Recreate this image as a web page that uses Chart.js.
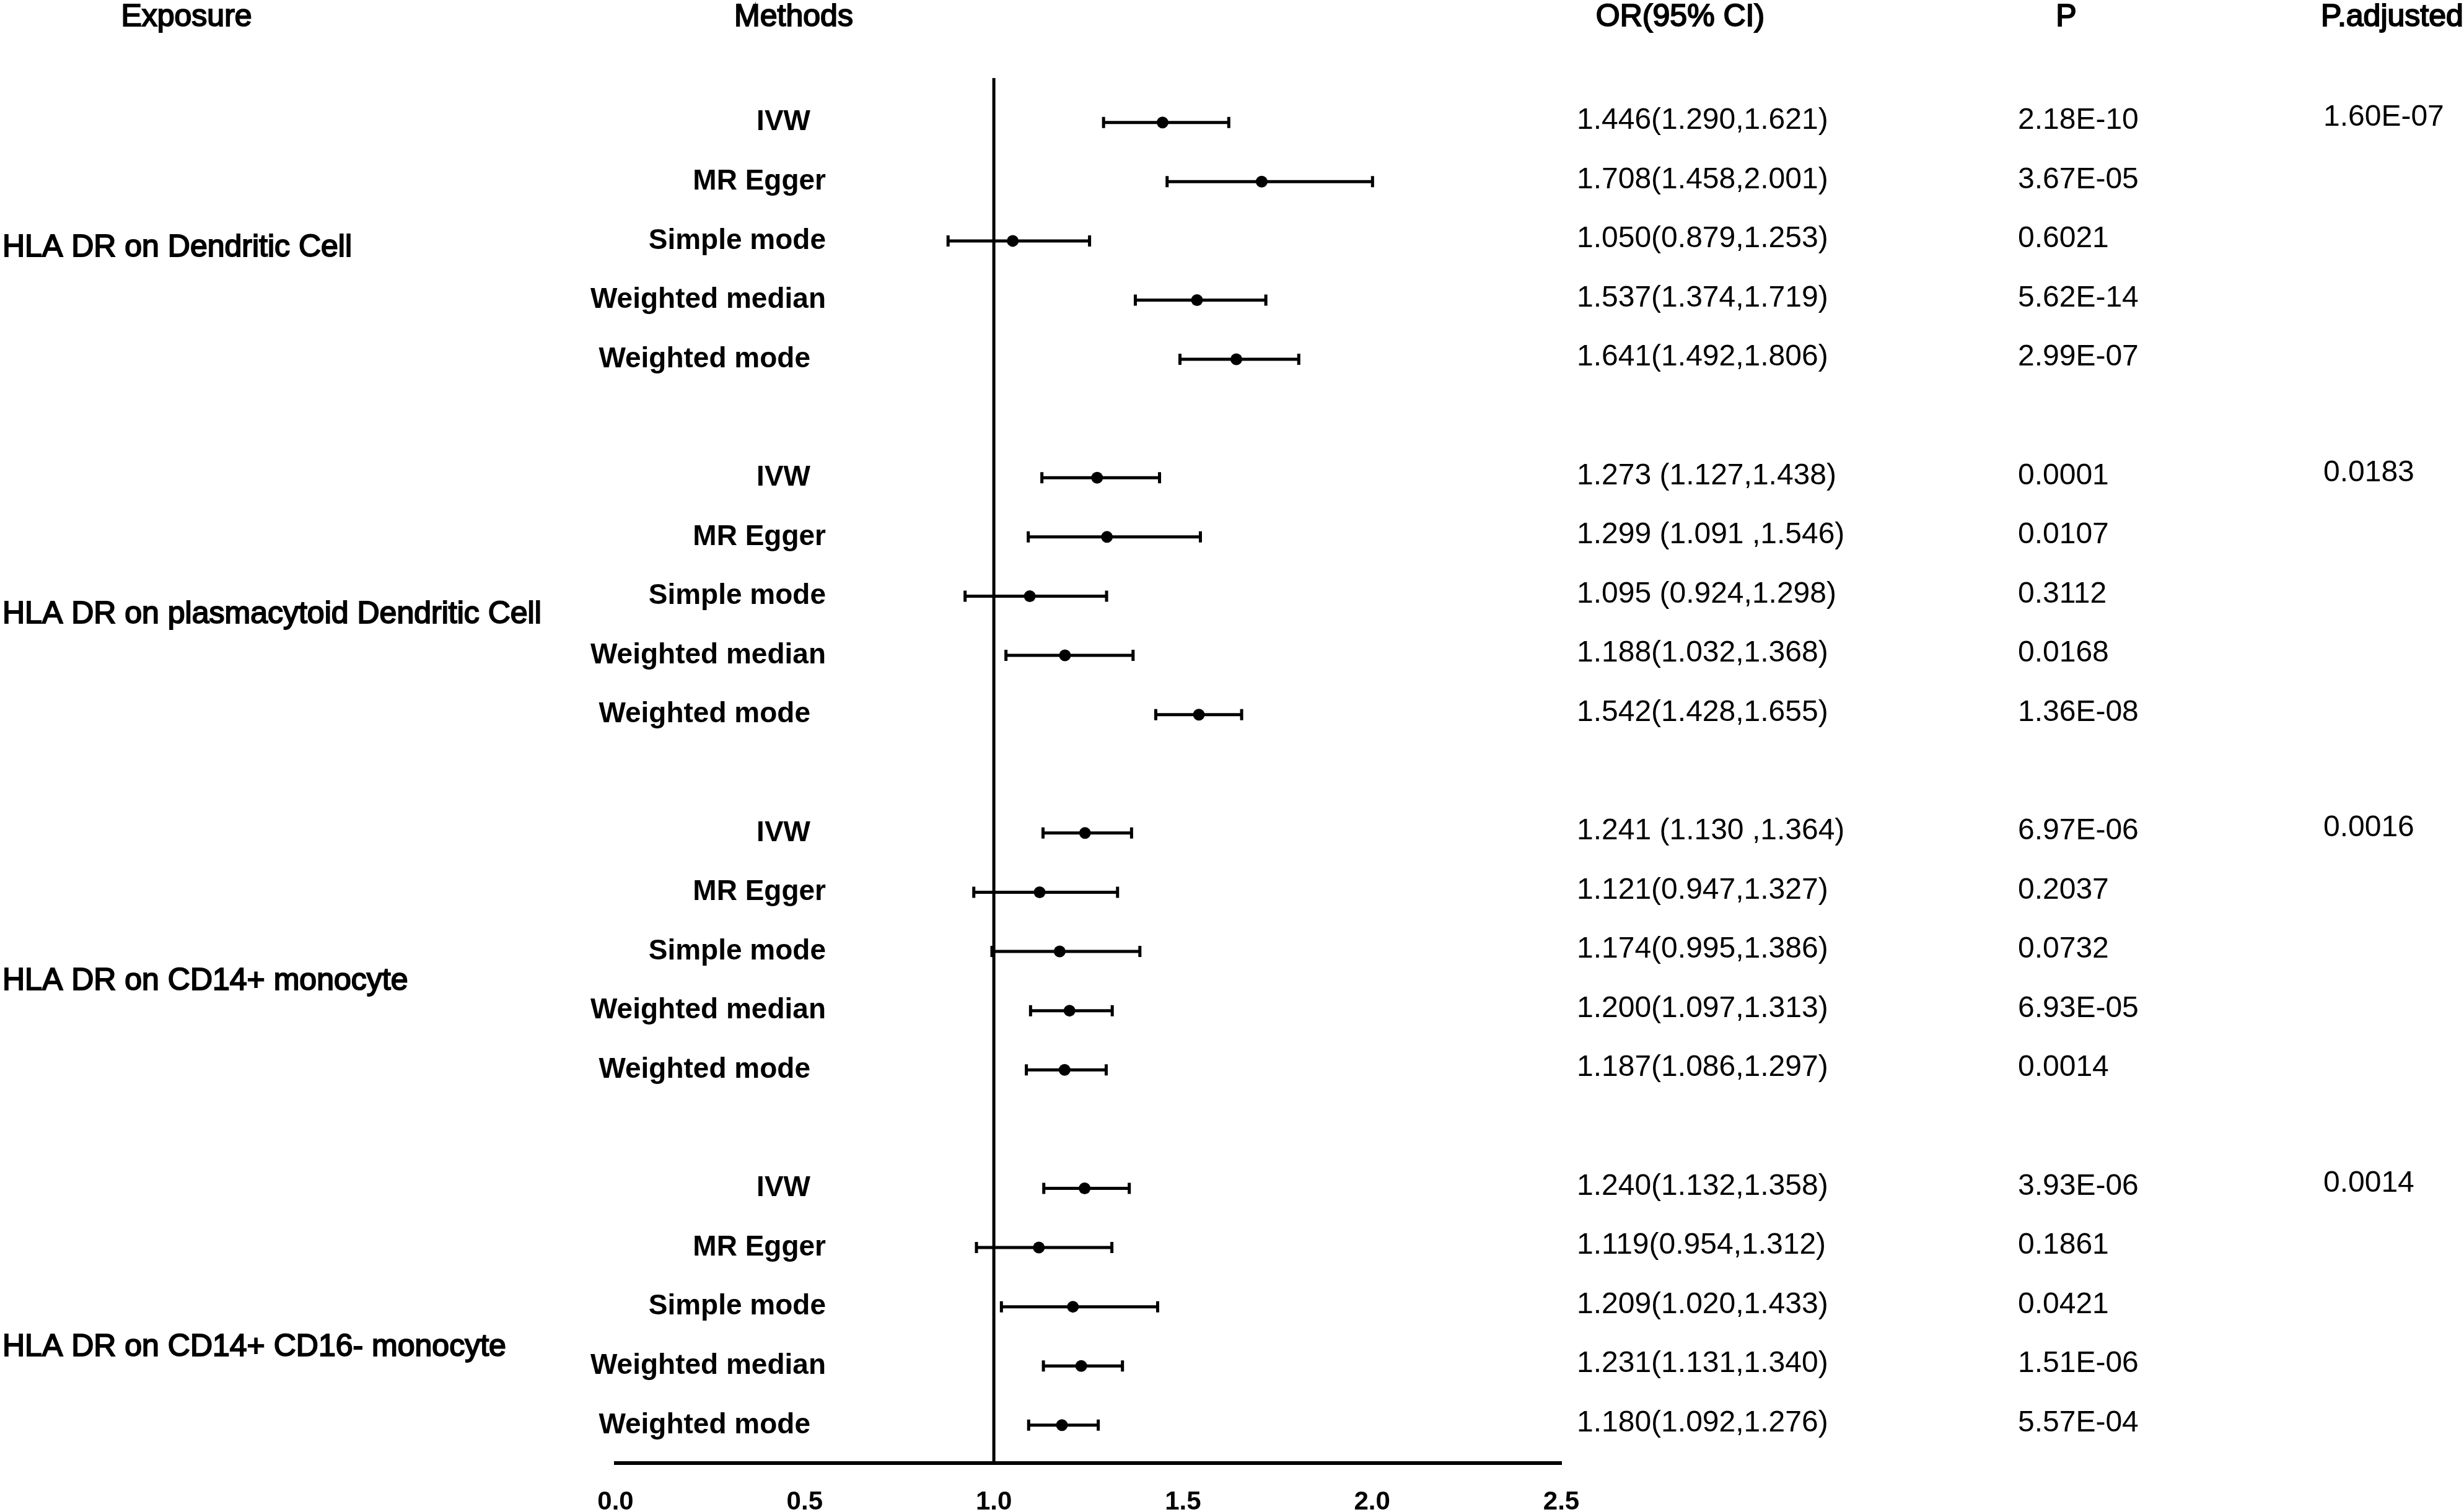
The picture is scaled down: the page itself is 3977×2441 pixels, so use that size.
<!DOCTYPE html>
<html>
<head>
<meta charset="utf-8">
<script src="https://cdn.jsdelivr.net/npm/chart.js@4/dist/chart.umd.min.js"></script>
<style>
  html, body { margin: 0; padding: 0; background: #fff; }
  #wrap { width: 3977px; height: 2441px; }
</style>
</head>
<body>
<div id="wrap"><canvas id="forest" width="3977" height="2441"></canvas></div>
<script>
// ---- data ----
const exposures = ["HLA DR on Dendritic Cell", "HLA DR on plasmacytoid Dendritic Cell", "HLA DR on CD14+ monocyte", "HLA DR on CD14+ CD16- monocyte"];
const methods = ["IVW", "MR Egger", "Simple mode", "Weighted median", "Weighted mode"];

const orValues = [1.446, 1.708, 1.050, 1.537, 1.641,
                  1.273, 1.299, 1.095, 1.188, 1.542,
                  1.241, 1.121, 1.174, 1.200, 1.187,
                  1.240, 1.119, 1.209, 1.231, 1.180];
const ciLower = [1.290, 1.458, 0.879, 1.374, 1.492,
                 1.127, 1.091, 0.924, 1.032, 1.428,
                 1.130, 0.947, 0.995, 1.097, 1.086,
                 1.132, 0.954, 1.020, 1.131, 1.092];
const ciUpper = [1.621, 2.001, 1.253, 1.719, 1.806,
                 1.438, 1.546, 1.298, 1.368, 1.655,
                 1.364, 1.327, 1.386, 1.313, 1.297,
                 1.358, 1.312, 1.433, 1.340, 1.276];
const orLabels = ["1.446(1.290,1.621)", "1.708(1.458,2.001)", "1.050(0.879,1.253)", "1.537(1.374,1.719)", "1.641(1.492,1.806)",
                  "1.273 (1.127,1.438)", "1.299 (1.091 ,1.546)", "1.095 (0.924,1.298)", "1.188(1.032,1.368)", "1.542(1.428,1.655)",
                  "1.241 (1.130 ,1.364)", "1.121(0.947,1.327)", "1.174(0.995,1.386)", "1.200(1.097,1.313)", "1.187(1.086,1.297)",
                  "1.240(1.132,1.358)", "1.119(0.954,1.312)", "1.209(1.020,1.433)", "1.231(1.131,1.340)", "1.180(1.092,1.276)"];
const pValues = ["2.18E-10", "3.67E-05", "0.6021", "5.62E-14", "2.99E-07",
                 "0.0001", "0.0107", "0.3112", "0.0168", "1.36E-08",
                 "6.97E-06", "0.2037", "0.0732", "6.93E-05", "0.0014",
                 "3.93E-06", "0.1861", "0.0421", "1.51E-06", "5.57E-04"];
const pAdjusted = ["1.60E-07", "0.0183", "0.0016", "0.0014"];
const headers = ["Exposure", "Methods", "OR(95% CI)", "P", "P.adjusted"];
const xTicks = [0.0, 0.5, 1.0, 1.5, 2.0, 2.5];

// one blank row between exposure groups
const rowOf = i => Math.floor(i / methods.length) * (methods.length + 1) + (i % methods.length);
const yMin = -0.75, yMax = 22.64;

const FONT = '"Liberation Sans", Arial, sans-serif';
Chart.defaults.font.family = FONT;
Chart.defaults.color = "#000";

const points = orValues.map((v, i) => ({ x: v, y: rowOf(i) }));

// horizontal CI bars with end caps
const errorBars = {
  id: "errorBars",
  beforeDatasetsDraw(chart) {
    const { ctx, scales: { x, y } } = chart;
    ctx.save();
    ctx.strokeStyle = "#000";
    ctx.lineWidth = 5;
    orValues.forEach((v, i) => {
      const py = y.getPixelForValue(rowOf(i));
      const x0 = x.getPixelForValue(ciLower[i]);
      const x1 = x.getPixelForValue(ciUpper[i]);
      ctx.beginPath();
      ctx.moveTo(x0, py); ctx.lineTo(x1, py);
      ctx.moveTo(x0, py - 9); ctx.lineTo(x0, py + 9);
      ctx.moveTo(x1, py - 9); ctx.lineTo(x1, py + 9);
      ctx.stroke();
    });
    ctx.restore();
  }
};

// table columns and row labels
const tableText = {
  id: "tableText",
  afterDraw(chart) {
    const { ctx, scales: { y } } = chart;
    ctx.save();
    ctx.fillStyle = "#000";
    ctx.strokeStyle = "#000";

    // headers and exposures: medium-ish weight
    function medium(txt, px, py, align) {
      ctx.font = "50px " + FONT;
      ctx.textAlign = align;
      ctx.lineWidth = 2;
      ctx.fillText(txt, px, py);
      ctx.strokeText(txt, px, py);
    }
    ctx.textBaseline = "alphabetic";
    medium(headers[0], 301, 42, "center");
    medium(headers[1], 1281, 42, "center");
    medium(headers[2], 2712, 42, "center");
    medium(headers[3], 3335, 42, "center");
    medium(headers[4], 3746, 42, "left");

    ctx.textBaseline = "middle";
    exposures.forEach((e, g) => {
      medium(e, 4, y.getPixelForValue(2.12 + 6.19 * g), "left");
    });

    // method names, bold
    ctx.font = "bold 46px " + FONT;
    ctx.textAlign = "right";
    orValues.forEach((v, i) => {
      const m = methods[i % methods.length];
      const right = (m === "IVW" || m === "Weighted mode") ? 1308 : 1333;
      ctx.fillText(m, right, y.getPixelForValue(rowOf(i)));
    });

    // OR / P / adjusted P
    ctx.font = "48px " + FONT;
    ctx.textAlign = "left";
    orValues.forEach((v, i) => {
      const py = y.getPixelForValue(rowOf(i)) - 3;
      ctx.fillText(orLabels[i], 2545, py);
      ctx.fillText(pValues[i], 3257, py);
    });
    pAdjusted.forEach((p, g) => {
      ctx.fillText(p, 3750, y.getPixelForValue(g * (methods.length + 1)) - 8);
    });
    ctx.restore();
  }
};

new Chart(document.getElementById("forest"), {
  data: {
    datasets: [
      {
        type: "line",
        data: [{ x: 1, y: yMin }, { x: 1, y: yMax }],
        borderColor: "#000",
        borderWidth: 5,
        pointRadius: 0
      },
      {
        type: "scatter",
        data: points,
        pointRadius: 9.5,
        pointHoverRadius: 9.5,
        backgroundColor: "#000",
        borderWidth: 0
      }
    ]
  },
  options: {
    responsive: false,
    animation: false,
    devicePixelRatio: 1,
    layout: { padding: { left: 993.5, right: 1457, top: 126, bottom: 0 } },
    plugins: { legend: { display: false }, tooltip: { enabled: false } },
    scales: {
      x: {
        type: "linear",
        min: 0,
        max: 2.5,
        afterBuildTicks: s => { s.ticks = xTicks.map(v => ({ value: v })); },
        afterFit: s => { s.height = 79; },
        grid: { display: false, drawTicks: false },
        border: { display: true, color: "#000", width: 6 },
        ticks: {
          padding: 38,
          font: { size: 42, weight: "bold" },
          color: "#000",
          callback: v => Number(v).toFixed(1)
        }
      },
      y: {
        type: "linear",
        min: yMin,
        max: yMax,
        reverse: true,
        display: false
      }
    }
  },
  plugins: [errorBars, tableText]
});
</script>
</body>
</html>
